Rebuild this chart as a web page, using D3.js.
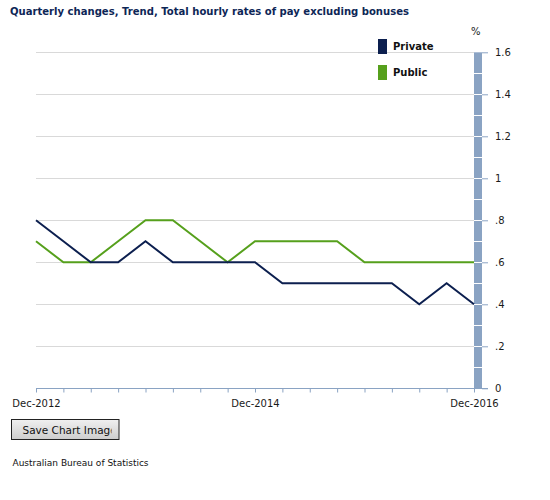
<!DOCTYPE html>
<html>
<head>
<meta charset="utf-8">
<script src="https://cdn.jsdelivr.net/npm/d3@7"></script>
<style>
  html, body { margin: 0; padding: 0; background: #fff; }
  svg { display: block; }
</style>
</head>
<body>
<svg id="chart" width="550" height="500"></svg>
<script>
// ---- data ----
const quarters = ["Dec-2012","Mar-2013","Jun-2013","Sep-2013","Dec-2013","Mar-2014","Jun-2014","Sep-2014","Dec-2014","Mar-2015","Jun-2015","Sep-2015","Dec-2015","Mar-2016","Jun-2016","Sep-2016","Dec-2016"];
const privateValues = [0.8,0.7,0.6,0.6,0.7,0.6,0.6,0.6,0.6,0.5,0.5,0.5,0.5,0.5,0.4,0.5,0.4];
const publicValues  = [0.7,0.6,0.6,0.7,0.8,0.8,0.7,0.6,0.7,0.7,0.7,0.7,0.6,0.6,0.6,0.6,0.6];
const xTickLabels = ["Dec-2012","Dec-2014","Dec-2016"];
const yTicks = [0,0.2,0.4,0.6,0.8,1,1.2,1.4,1.6];
const yTickLabels = ["0",".2",".4",".6",".8","1","1.2","1.4","1.6"];
const seriesNames = ["Private","Public"];
const seriesColors = ["#0c1f4f","#56a01c"];
const titleText = "Quarterly changes, Trend, Total hourly rates of pay excluding bonuses";
const sourceText = "Australian Bureau of Statistics";

const svg = d3.select("#chart");
const font = "DejaVu Sans, Verdana, sans-serif";

const x = d3.scalePoint().domain(quarters).range([36, 474]);
const y = d3.scaleLinear().domain([0, 1.6]).range([388.3, 52.3]);

// title
svg.append("text").attr("x", 10).attr("y", 15)
  .attr("font-family", font).attr("font-size", 10.5).attr("font-weight", "bold")
  .attr("textLength", 399).attr("lengthAdjust", "spacingAndGlyphs")
  .attr("fill", "#0d2656").text(titleText);

// gridlines
svg.append("g").selectAll("line").data(yTicks.filter(d => d > 0)).join("line")
  .attr("x1", 36).attr("x2", 474)
  .attr("y1", d => Math.round(y(d)) + 0.5).attr("y2", d => Math.round(y(d)) + 0.5)
  .attr("stroke", "#d9d9d9").attr("stroke-width", 1);

// right axis bar
const barX = 474, barW = 8;
svg.append("rect").attr("x", barX).attr("y", y(1.6)).attr("width", barW).attr("height", y(0) - y(1.6))
  .attr("fill", "#8aa3c3");
// white separators every 0.1
const seps = d3.range(1, 16).map(i => i / 10);
svg.append("g").selectAll("line").data(seps).join("line")
  .attr("x1", barX).attr("x2", barX + barW)
  .attr("y1", d => Math.round(y(d)) + 0.5).attr("y2", d => Math.round(y(d)) + 0.5)
  .attr("stroke", "#ffffff").attr("stroke-width", 1);

// right axis ticks + labels
const yAxis = d3.axisRight(y).tickValues(yTicks).tickSize(6).tickPadding(7)
  .tickFormat((d, i) => yTickLabels[i]);
const gy = svg.append("g").attr("transform", `translate(${barX + barW},0)`).call(yAxis);
gy.select(".domain").remove();
gy.selectAll(".tick line").attr("stroke", "#8aa3c3");
gy.selectAll(".tick text").attr("font-family", font).attr("font-size", 10).attr("fill", "#1a1a1a");

svg.append("text").attr("x", 471).attr("y", 35)
  .attr("font-family", font).attr("font-size", 10).attr("fill", "#1a1a1a").text("%");

// x axis
const xAxis = d3.axisBottom(x).tickSize(4).tickSizeOuter(0).tickFormat(d => xTickLabels.includes(d) ? d : "");
const gx = svg.append("g").attr("transform", "translate(0,388.5)").call(xAxis);
gx.select(".domain").attr("stroke", "#8aa3c3").attr("d", `M36,0H${barX + barW + 6}`);
gx.selectAll(".tick line").attr("stroke", "#8aa3c3");
gx.selectAll(".tick text").attr("font-family", font).attr("font-size", 10).attr("fill", "#1a1a1a")
  .attr("y", 11);

// lines
const line = d3.line().x((d, i) => x(quarters[i])).y(d => y(d));
[publicValues, privateValues].forEach((vals, j) => {
  const k = j === 0 ? 1 : 0;
  svg.append("path").datum(vals).attr("d", line)
    .attr("fill", "none").attr("stroke", seriesColors[k]).attr("stroke-width", 2);
});

// legend
const lg = svg.append("g").selectAll("g").data(seriesNames).join("g")
  .attr("transform", (d, i) => `translate(378,${39 + i * 26})`);
lg.append("rect").attr("width", 9).attr("height", 15).attr("fill", (d, i) => seriesColors[i]);
lg.append("text").attr("x", 15).attr("y", 11)
  .attr("font-family", font).attr("font-size", 10).attr("font-weight", "bold")
  .attr("fill", "#111").text(d => d);

// button
const defs = svg.append("defs");
const grad = defs.append("linearGradient").attr("id", "btn").attr("x1", 0).attr("x2", 0).attr("y1", 0).attr("y2", 1);
grad.append("stop").attr("offset", "0%").attr("stop-color", "#f0f0f0");
grad.append("stop").attr("offset", "100%").attr("stop-color", "#cdcdcd");
svg.append("rect").attr("x", 11.5).attr("y", 419.5).attr("width", 107.5).attr("height", 20)
  .attr("fill", "url(#btn)").attr("stroke", "#222");
svg.append("clipPath").attr("id", "btnclip").append("rect").attr("x", 12).attr("y", 420).attr("width", 99.5).attr("height", 19);
svg.append("text").attr("x", 22.5).attr("y", 433.5).attr("clip-path", "url(#btnclip)")
  .attr("font-family", font).attr("font-size", 10.5).attr("fill", "#111").text("Save Chart Image");

// source
svg.append("text").attr("x", 12.5).attr("y", 466)
  .attr("font-family", font).attr("font-size", 9).attr("fill", "#111").text(sourceText);
</script>
</body>
</html>
